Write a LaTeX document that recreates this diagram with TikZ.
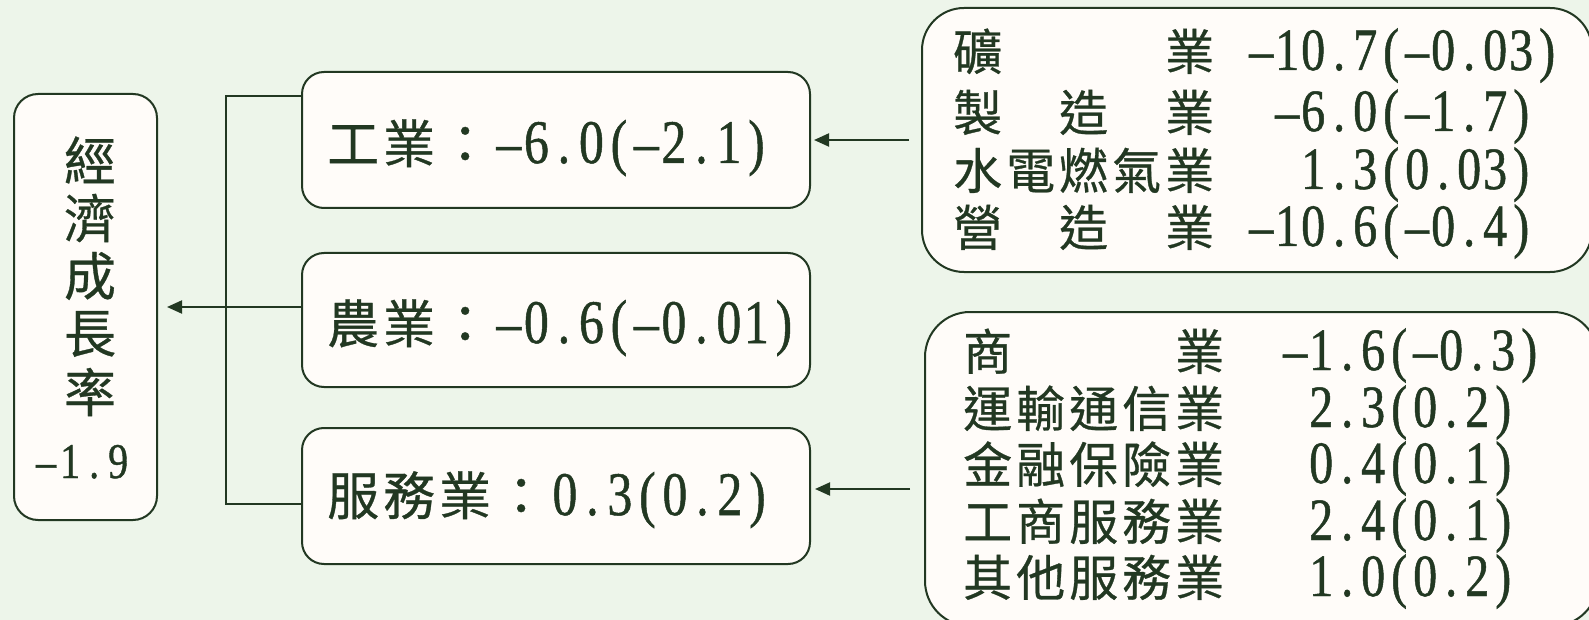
\documentclass[tikz,border=0pt]{standalone}
\usepackage{fontspec}
\newfontfamily\cjk[FakeBold=0.6]{Noto Sans CJK TC}
\newfontfamily\numf[FakeStretch=0.8,FakeBold=0.8]{Liberation Serif}
\usetikzlibrary{arrows.meta}
\definecolor{bgc}{HTML}{EDF5EA}
\definecolor{ink}{HTML}{223822}
\definecolor{boxfill}{HTML}{FFFCF9}
\newlength\cellw
\def\monoloop#1{\ifx\relax#1\else\makebox[\cellw][c]{\ifx-#1\textendash\else#1\fi}\expandafter\monoloop\fi}
\newcommand\mono[2]{\setlength\cellw{#1}\monoloop#2\relax}
\newcommand\cjkM{\cjk\fontsize{52pt}{60pt}\selectfont}
\newcommand\cjkR{\cjk\fontsize{49pt}{56pt}\selectfont}
\newcommand\cjkL{\cjk\fontsize{52pt}{60pt}\selectfont}
\newcommand\numM{\numf\fontsize{62pt}{66pt}\selectfont}
\newcommand\numR{\numf\fontsize{60pt}{64pt}\selectfont}
\newcommand\numL{\numf\fontsize{50pt}{56pt}\selectfont}
\newcommand\cellM[1]{\makebox[56pt][l]{#1}}
\newcommand\cellR[1]{\makebox[53pt][l]{#1}}
\tikzset{
  box/.style={draw=ink, line width=2pt, fill=boxfill, inner sep=0pt},
  txt/.style={text=ink, inner sep=0pt, anchor=base west},
  ctxt/.style={text=ink, inner sep=0pt, anchor=center},
  conn/.style={draw=ink, line width=2pt},
  arr/.style={conn, -{Triangle[length=15pt,width=13pt]}},
}
\begin{document}
\begin{tikzpicture}[x=1pt,y=-1pt]
\useasboundingbox (0,0) rectangle (1589,620);
\clip (0,0) rectangle (1589,620);
\fill[bgc] (0,0) rectangle (1589,620);

% boxes
\node[box, rounded corners=24pt, minimum width=143pt, minimum height=426pt] (growth) at (85.5,307) {};
\node[box, rounded corners=22pt, minimum width=508pt, minimum height=136pt] (ind) at (556,140) {};
\node[box, rounded corners=22pt, minimum width=508pt, minimum height=134pt] (agr) at (556,320) {};
\node[box, rounded corners=22pt, minimum width=508pt, minimum height=136pt] (serv) at (556,496) {};
\node[box, rounded corners=42pt, minimum width=670pt, minimum height=264pt] (r1) at (1257,140) {};
\node[box, rounded corners=45pt, minimum width=673pt, minimum height=314pt] (r2) at (1261.5,469) {};

% left text
\foreach \ch [count=\i] in {經,濟,成,長,率}
  \node[ctxt, font=\cjkL] (g\i) at (90,{160+58*(\i-1)}) {\ch};
\node[txt] (gval) at (34,478) {\numL\mono{24pt}{-1.9}};

% middle texts
\node[txt] (indt) at (327,163) {\cjkM\cellM{工}\cellM{業}\cellM{：}\numM\mono{27.5pt}{-6.0(-2.1)}};
\node[txt] (agrt) at (327,343) {\cjkM\cellM{農}\cellM{業}\cellM{：}\numM\mono{27.5pt}{-0.6(-0.01)}};
\node[txt] (servt) at (327,515) {\cjkM\cellM{服}\cellM{務}\cellM{業}\cellM{：}\numM\mono{27.5pt}{0.3(0.2)}};

% right box 1
\node[txt] (r1a) at (953,70) {\makebox[295pt][l]{\cjkR\cellR{礦}\cellR{}\cellR{}\cellR{}\cellR{業}}\numR\mono{26pt}{-10.7(-0.03)}};
\node[txt] (r1b) at (953,131) {\makebox[295pt][l]{\cjkR\cellR{製}\cellR{}\cellR{造}\cellR{}\cellR{業}}\numR\hspace{26pt}\mono{26pt}{-6.0(-1.7)}};
\node[txt] (r1c) at (953,189) {\makebox[295pt][l]{\cjkR\cellR{水}\cellR{電}\cellR{燃}\cellR{氣}\cellR{業}}\numR\hspace{52pt}\mono{26pt}{1.3(0.03)}};
\node[txt] (r1d) at (953,246) {\makebox[295pt][l]{\cjkR\cellR{營}\cellR{}\cellR{造}\cellR{}\cellR{業}}\numR\mono{26pt}{-10.6(-0.4)}};

% right box 2
\node[txt] (r2a) at (963,370) {\makebox[319pt][l]{\cjkR\cellR{商}\cellR{}\cellR{}\cellR{}\cellR{業}}\numR\mono{26pt}{-1.6(-0.3)}};
\node[txt] (r2b) at (963,427) {\makebox[319pt][l]{\cjkR\cellR{運}\cellR{輸}\cellR{通}\cellR{信}\cellR{業}}\numR\hspace{26pt}\mono{26pt}{2.3(0.2)}};
\node[txt] (r2c) at (963,483) {\makebox[319pt][l]{\cjkR\cellR{金}\cellR{融}\cellR{保}\cellR{險}\cellR{業}}\numR\hspace{26pt}\mono{26pt}{0.4(0.1)}};
\node[txt] (r2d) at (963,540) {\makebox[319pt][l]{\cjkR\cellR{工}\cellR{商}\cellR{服}\cellR{務}\cellR{業}}\numR\hspace{26pt}\mono{26pt}{2.4(0.1)}};
\node[txt] (r2e) at (963,596) {\makebox[319pt][l]{\cjkR\cellR{其}\cellR{他}\cellR{服}\cellR{務}\cellR{業}}\numR\hspace{26pt}\mono{26pt}{1.0(0.2)}};

% connectors
\coordinate (bt) at (226,96);
\coordinate (bb) at (226,504);
\draw[conn] (bt -| ind.west) -- (bt) -- (bb) -- (bb -| serv.west);
\draw[arr, shorten >=9pt] (agr.west |- growth.east) -- (growth.east);
\draw[arr, shorten <=12pt, shorten >=3pt] (r1.west) -- (ind.east);
\coordinate (s2) at (910,489);
\draw[arr, shorten >=4pt] (s2) -- (s2 -| serv.east);
\end{tikzpicture}
\end{document}
